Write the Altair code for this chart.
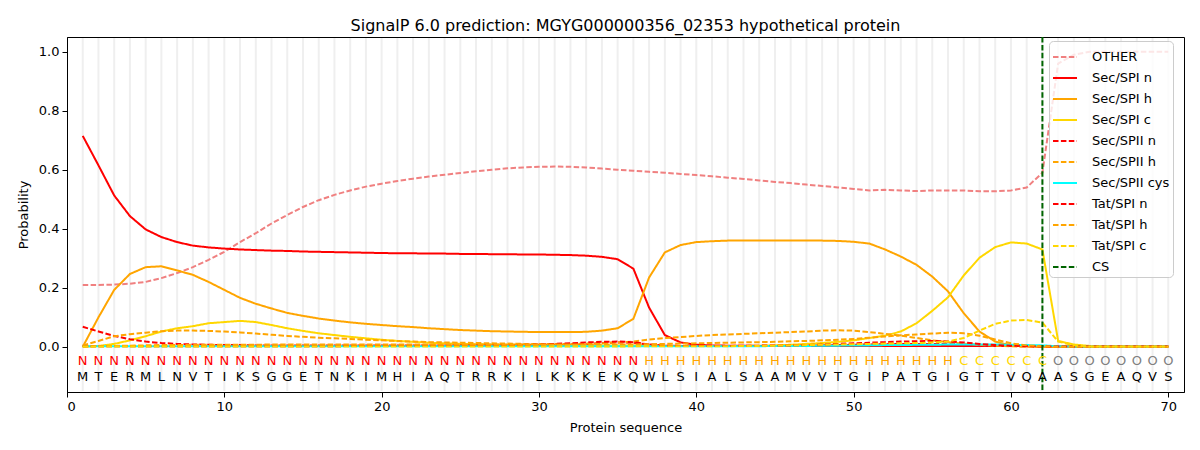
import altair as alt
import pandas as pd

sequence = list("MTERMLNVTIKSGGETNKIMHIAQTRRKILKKKEKQWLSIALSAAMVVTGIPATGIGTTVQAASGEAQVS")
regions = list("N" * 36 + "H" * 20 + "C" * 6 + "O" * 8)
positions = list(range(1, 71))
cs_position = 62

other = [0.21, 0.21, 0.211, 0.214, 0.22, 0.233, 0.25, 0.27, 0.295, 0.322,
         0.355, 0.385, 0.418, 0.447, 0.474, 0.497, 0.515, 0.53, 0.543, 0.553,
         0.562, 0.57, 0.577, 0.583, 0.589, 0.595, 0.6, 0.605, 0.608, 0.61,
         0.611, 0.61, 0.608, 0.604, 0.6, 0.597, 0.593, 0.59, 0.586, 0.582,
         0.578, 0.573, 0.569, 0.564, 0.559, 0.555, 0.55, 0.545, 0.54, 0.535,
         0.53, 0.532, 0.53, 0.528, 0.53, 0.53, 0.53, 0.527, 0.527, 0.53,
         0.54, 0.59, 0.96, 0.99, 1.0, 1.0, 1.0, 1.0, 1.0, 1.0]
sec_spi_n = [0.715, 0.615, 0.513, 0.443, 0.398, 0.372, 0.355, 0.343, 0.337, 0.333,
             0.33, 0.328, 0.326, 0.325, 0.323, 0.322, 0.321, 0.32, 0.319, 0.318,
             0.317, 0.317, 0.316, 0.316, 0.315, 0.315, 0.314, 0.314, 0.313, 0.313,
             0.312, 0.311, 0.309, 0.305, 0.297, 0.265, 0.133, 0.04, 0.015, 0.007,
             0.005, 0.004, 0.004, 0.003, 0.003, 0.003, 0.003, 0.003, 0.003, 0.003,
             0.003, 0.003, 0.003, 0.003, 0.003, 0.003, 0.003, 0.003, 0.003, 0.003,
             0.002, 0.002, 0.001, 0.001, 0.001, 0.001, 0.001, 0.001, 0.001, 0.001]
sec_spi_h = [0.0, 0.1, 0.193, 0.247, 0.27, 0.273, 0.259, 0.244, 0.22, 0.193,
             0.166, 0.146, 0.13, 0.115, 0.105, 0.096, 0.089, 0.083, 0.078, 0.074,
             0.07, 0.067, 0.063, 0.06, 0.057, 0.055, 0.053, 0.052, 0.051, 0.05,
             0.05, 0.05, 0.051, 0.055, 0.063, 0.095, 0.235, 0.32, 0.345, 0.355,
             0.358, 0.36, 0.36, 0.36, 0.36, 0.36, 0.36, 0.36, 0.359, 0.356,
             0.35, 0.33, 0.306, 0.278, 0.238, 0.188, 0.114, 0.052, 0.018, 0.005,
             0.002, 0.001, 0.0, 0.0, 0.0, 0.0, 0.0, 0.0, 0.0, 0.0]
sec_spi_c = [0.0, 0.003, 0.01, 0.022, 0.036, 0.052, 0.063, 0.07, 0.08, 0.084,
             0.088, 0.084, 0.074, 0.063, 0.054, 0.046, 0.04, 0.034, 0.029, 0.024,
             0.02, 0.017, 0.014, 0.012, 0.01, 0.009, 0.008, 0.007, 0.007, 0.006,
             0.006, 0.006, 0.005, 0.005, 0.005, 0.005, 0.004, 0.003, 0.003, 0.003,
             0.003, 0.003, 0.003, 0.004, 0.005, 0.007, 0.01, 0.013, 0.017, 0.022,
             0.03, 0.038, 0.052, 0.08, 0.122, 0.168, 0.242, 0.302, 0.338, 0.354,
             0.35, 0.33, 0.02, 0.008, 0.003, 0.001, 0.001, 0.0, 0.0, 0.0]
sec_spii_n = [0.068, 0.052, 0.037, 0.026, 0.018, 0.013, 0.01, 0.008, 0.007, 0.006,
              0.006, 0.005, 0.005, 0.005, 0.005, 0.005, 0.005, 0.005, 0.005, 0.005,
              0.005, 0.005, 0.005, 0.005, 0.005, 0.005, 0.005, 0.005, 0.005, 0.005,
              0.006, 0.008, 0.01, 0.013, 0.015, 0.014, 0.008, 0.004, 0.003, 0.003,
              0.003, 0.003, 0.003, 0.003, 0.003, 0.003, 0.004, 0.005, 0.006, 0.007,
              0.008, 0.009, 0.01, 0.01, 0.01, 0.009, 0.008, 0.006, 0.004, 0.003,
              0.002, 0.001, 0.001, 0.001, 0.001, 0.001, 0.001, 0.001, 0.001, 0.001]
sec_spii_h = [0.005, 0.02, 0.036, 0.043, 0.048, 0.053, 0.055, 0.055, 0.054, 0.052,
              0.049, 0.045, 0.041, 0.037, 0.034, 0.031, 0.029, 0.027, 0.024, 0.022,
              0.02, 0.018, 0.016, 0.015, 0.014, 0.013, 0.012, 0.011, 0.01, 0.01,
              0.01, 0.01, 0.011, 0.012, 0.015, 0.018, 0.025, 0.03, 0.033, 0.037,
              0.04, 0.042, 0.044, 0.046, 0.048, 0.05, 0.052, 0.055, 0.056, 0.055,
              0.05, 0.044, 0.038, 0.03, 0.022, 0.016, 0.011, 0.007, 0.004, 0.002,
              0.001, 0.001, 0.0, 0.0, 0.0, 0.0, 0.0, 0.0, 0.0, 0.0]
sec_spii_cys = [0.002, 0.002, 0.002, 0.002, 0.002, 0.002, 0.002, 0.002, 0.002, 0.002,
                0.002, 0.002, 0.002, 0.002, 0.002, 0.002, 0.002, 0.002, 0.002, 0.002,
                0.002, 0.002, 0.002, 0.002, 0.002, 0.002, 0.002, 0.002, 0.002, 0.002,
                0.002, 0.002, 0.002, 0.002, 0.002, 0.002, 0.002, 0.002, 0.002, 0.002,
                0.002, 0.002, 0.002, 0.002, 0.003, 0.003, 0.003, 0.004, 0.004, 0.005,
                0.005, 0.006, 0.006, 0.007, 0.007, 0.008, 0.008, 0.008, 0.008, 0.007,
                0.006, 0.005, 0.002, 0.001, 0.001, 0.001, 0.001, 0.001, 0.001, 0.001]
tat_spi_n = [0.002, 0.002, 0.002, 0.002, 0.002, 0.002, 0.002, 0.002, 0.002, 0.002,
             0.002, 0.002, 0.002, 0.002, 0.002, 0.002, 0.002, 0.003, 0.003, 0.003,
             0.003, 0.003, 0.004, 0.004, 0.004, 0.005, 0.005, 0.006, 0.007, 0.008,
             0.01, 0.012, 0.015, 0.017, 0.018, 0.016, 0.008, 0.004, 0.003, 0.003,
             0.003, 0.003, 0.004, 0.004, 0.005, 0.005, 0.006, 0.008, 0.01, 0.012,
             0.014, 0.016, 0.018, 0.019, 0.02, 0.018, 0.015, 0.01, 0.006, 0.004,
             0.003, 0.002, 0.001, 0.001, 0.001, 0.001, 0.001, 0.001, 0.001, 0.001]
tat_spi_h = [0.001, 0.002, 0.003, 0.004, 0.005, 0.006, 0.006, 0.007, 0.007, 0.007,
             0.007, 0.007, 0.008, 0.008, 0.008, 0.008, 0.008, 0.008, 0.008, 0.008,
             0.008, 0.008, 0.008, 0.008, 0.008, 0.008, 0.008, 0.008, 0.008, 0.008,
             0.008, 0.008, 0.008, 0.008, 0.008, 0.008, 0.009, 0.01, 0.011, 0.012,
             0.013, 0.014, 0.015, 0.016, 0.017, 0.019, 0.02, 0.022, 0.024, 0.027,
             0.031, 0.035, 0.039, 0.042, 0.045, 0.048, 0.046, 0.038, 0.025, 0.012,
             0.005, 0.002, 0.0, 0.0, 0.0, 0.0, 0.0, 0.0, 0.0, 0.0]
tat_spi_c = [0.001, 0.001, 0.001, 0.001, 0.001, 0.001, 0.001, 0.001, 0.001, 0.001,
             0.001, 0.001, 0.001, 0.001, 0.001, 0.001, 0.001, 0.001, 0.001, 0.001,
             0.001, 0.001, 0.001, 0.001, 0.001, 0.001, 0.001, 0.001, 0.001, 0.001,
             0.001, 0.001, 0.001, 0.001, 0.001, 0.002, 0.002, 0.002, 0.002, 0.002,
             0.002, 0.002, 0.003, 0.003, 0.004, 0.005, 0.006, 0.007, 0.008, 0.009,
             0.01, 0.011, 0.012, 0.013, 0.015, 0.018, 0.03, 0.055, 0.078, 0.089,
             0.091, 0.082, 0.018, 0.005, 0.001, 0.001, 0.001, 0.001, 0.001, 0.001]

series_names = ["OTHER", "Sec/SPI n", "Sec/SPI h", "Sec/SPI c", "Sec/SPII n",
                "Sec/SPII h", "Sec/SPII cys", "Tat/SPI n", "Tat/SPI h", "Tat/SPI c", "CS"]
series_values = [other, sec_spi_n, sec_spi_h, sec_spi_c, sec_spii_n,
                 sec_spii_h, sec_spii_cys, tat_spi_n, tat_spi_h, tat_spi_c]
series_colors = ["#f08080", "#ff0000", "#ffa500", "#ffd700", "#ff0000",
                 "#ffa500", "#00ffff", "#ff0000", "#ffa500", "#ffd700", "#006400"]
DASH = [5.5, 2.4]
SOLID = [1, 0]
series_dashes = [DASH, SOLID, SOLID, SOLID, DASH, DASH, SOLID, DASH, DASH, DASH, DASH]
region_colors = {"N": "#ff0000", "H": "#ffa500", "C": "#ffd700", "O": "#808080"}

rows = []
for name, vals in zip(series_names, series_values):
    for p, v in zip(positions, vals):
        rows.append({"pos": p, "prob": v, "series": name})
df = pd.DataFrame(rows)

letters = pd.DataFrame({
    "pos": positions,
    "aa": sequence,
    "region": regions,
    "rcolor": [region_colors[r] for r in regions],
})
grid_df = pd.DataFrame({"pos": positions})
cs_df = pd.DataFrame({"pos": [cs_position], "series": ["CS"]})

FONT = "DejaVu Sans"
xscale = alt.Scale(domain=[0, 71], nice=False, zero=False)
yscale = alt.Scale(domain=[-0.153, 1.05], nice=False, zero=False)
xaxis = alt.Axis(values=[0, 10, 20, 30, 40, 50, 60, 70], format="d", grid=False,
                 title="Protein sequence")
yaxis = alt.Axis(values=[0, 0.2, 0.4, 0.6, 0.8, 1.0], format=".1f", grid=False,
                 title="Probability")
X = alt.X("pos:Q", scale=xscale, axis=xaxis, title="Protein sequence")

legend_cfg = alt.Legend(title=None, orient="none", legendX=982, legendY=4)
color_enc = alt.Color("series:N",
                      scale=alt.Scale(domain=series_names, range=series_colors),
                      legend=legend_cfg)
dash_enc = alt.StrokeDash("series:N",
                          scale=alt.Scale(domain=series_names, range=series_dashes),
                          legend=legend_cfg)

grid = alt.Chart(grid_df).mark_rule(color="#efefef", strokeWidth=2).encode(
    x=X, y=alt.value(1), y2=alt.value(354)
)

lines = alt.Chart(df).mark_line(strokeWidth=2).encode(
    x=X,
    y=alt.Y("prob:Q", scale=yscale, axis=yaxis, title="Probability"),
    color=color_enc,
    strokeDash=dash_enc,
    detail="series:N",
)

cs = alt.Chart(cs_df).mark_rule(strokeWidth=2).encode(
    x=X, color=color_enc, strokeDash=dash_enc
)

region_text = alt.Chart(letters).mark_text(fontSize=13, font=FONT, baseline="middle").encode(
    x=X,
    y=alt.YDatum(-0.047, scale=yscale, title="Probability"),
    text="region:N",
    color=alt.Color("rcolor:N", scale=None, legend=None),
)
aa_text = alt.Chart(letters).mark_text(fontSize=13, font=FONT, baseline="middle", color="black").encode(
    x=X,
    y=alt.YDatum(-0.102, scale=yscale, title="Probability"),
    text="aa:N",
)

chart = alt.layer(grid, lines, cs, region_text, aa_text).properties(
    width=1117,
    height=355,
    autosize=alt.AutoSizeParams(type="none"),
    padding={"left": 59, "top": 29, "right": 8, "bottom": 50},
    title=alt.TitleParams(
        "SignalP 6.0 prediction: MGYG000000356_02353 hypothetical protein",
        fontSize=16, fontWeight="normal", font=FONT, anchor="middle", offset=2, color="black",
    ),
).configure_view(
    stroke="black", strokeWidth=1
).configure_axis(
    labelFont=FONT, titleFont=FONT, labelFontSize=13, titleFontSize=13,
    labelColor="black", titleColor="black", titleFontWeight="normal",
    domainColor="black", tickColor="black", tickSize=5, labelPadding=3,
).configure_axisX(
    titlePadding=8
).configure_axisY(
    titlePadding=8
).configure_legend(
    labelFont=FONT, labelFontSize=13, labelColor="black",
    symbolType="stroke", symbolStrokeWidth=2, symbolSize=576,
    fillColor="rgba(255,255,255,0.8)", strokeColor="#cccccc", cornerRadius=4,
    padding=3, rowPadding=1, labelOffset=14,
)

chart.save("out.html", embed_options={"renderer": "svg", "actions": False})
